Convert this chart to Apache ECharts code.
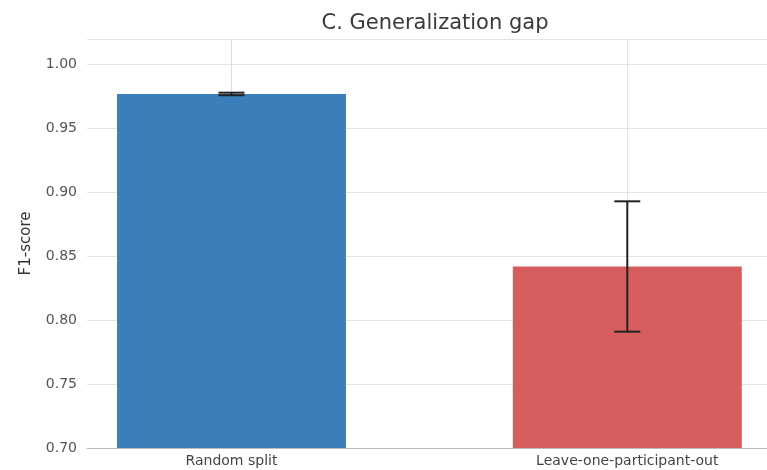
<!DOCTYPE html>
<html>
<head>
<meta charset="utf-8">
<script src="https://cdn.jsdelivr.net/npm/echarts@6/dist/echarts.min.js"></script>
<style>html,body{margin:0;padding:0;background:#fff}#c{width:767px;height:470px}</style>
</head>
<body>
<div id="c"></div>
<script>
const categories = ['Random split', 'Leave-one-participant-out'];
const positions = [0, 1];
const means = [0.977, 0.842];
const errors = [0.001, 0.051];
const colors = ['#3a7fba', '#d65d5d'];
const yTicks = [0.70, 0.75, 0.80, 0.85, 0.90, 0.95, 1.00];

const chart = echarts.init(document.getElementById('c'), null, {renderer: 'canvas'});
const font = 'DejaVu Sans';
const barData = categories.map((c, i) => ({value: [positions[i], means[i]], itemStyle: {color: colors[i]}}));
const errData = categories.map((c, i) => [positions[i], means[i] - errors[i], means[i] + errors[i]]);

chart.setOption({
  backgroundColor: '#ffffff',
  animation: false,
  title: {
    text: 'C. Generalization gap',
    left: 430, top: 8, textAlign: 'center',
    textStyle: {fontFamily: font, fontSize: 21, fontWeight: 'normal', color: '#3a3a3a'}
  },
  grid: {left: 87, right: 0, top: 39, bottom: 22},
  xAxis: {
    type: 'value', min: -0.365, max: 1.353,
    axisLine: {show: true, lineStyle: {color: '#bbb', width: 1}},
    axisTick: {show: false, customValues: positions},
    splitLine: {show: false},
    axisLabel: {
      customValues: positions,
      fontFamily: font, fontSize: 14, color: '#444', margin: 6,
      formatter: v => categories[positions.indexOf(Math.round(v))] || ''
    }
  },
  yAxis: {
    type: 'value', min: 0.70, max: 1.02, interval: 0.05,
    name: 'F1-score', nameLocation: 'middle', nameGap: 53,
    nameTextStyle: {fontFamily: font, fontSize: 15, color: '#333'},
    axisLine: {show: true, lineStyle: {color: '#ddd'}},
    axisTick: {show: false},
    splitLine: {show: true, lineStyle: {color: '#e3e3e3', width: 1}},
    axisLabel: {
      fontFamily: font, fontSize: 14, color: '#555', margin: 10,
      showMaxLabel: false,
      formatter: v => v.toFixed(2)
    }
  },
  series: [
    {
      type: 'bar', data: barData, barWidth: 229,
      itemStyle: {borderWidth: 0},
      markLine: {
        silent: true, symbol: 'none', z: 0,
        label: {show: false},
        lineStyle: {color: '#e3e3e3', width: 1, type: 'solid'},
        data: positions.map(p => ({xAxis: p}))
      }
    },
    {
      type: 'custom', data: errData, z: 10,
      renderItem: function (params, api) {
        const x = api.value(0);
        const lo = api.coord([x, api.value(1)]);
        const hi = api.coord([x, api.value(2)]);
        const half = 13;
        const st = {stroke: '#222', lineWidth: 2};
        return {
          type: 'group',
          children: [
            {type: 'line', shape: {x1: lo[0], y1: lo[1], x2: hi[0], y2: hi[1]}, style: st},
            {type: 'line', shape: {x1: lo[0] - half, y1: lo[1], x2: lo[0] + half, y2: lo[1]}, style: st},
            {type: 'line', shape: {x1: hi[0] - half, y1: hi[1], x2: hi[0] + half, y2: hi[1]}, style: st}
          ]
        };
      }
    }
  ]
});
</script>
</body>
</html>
